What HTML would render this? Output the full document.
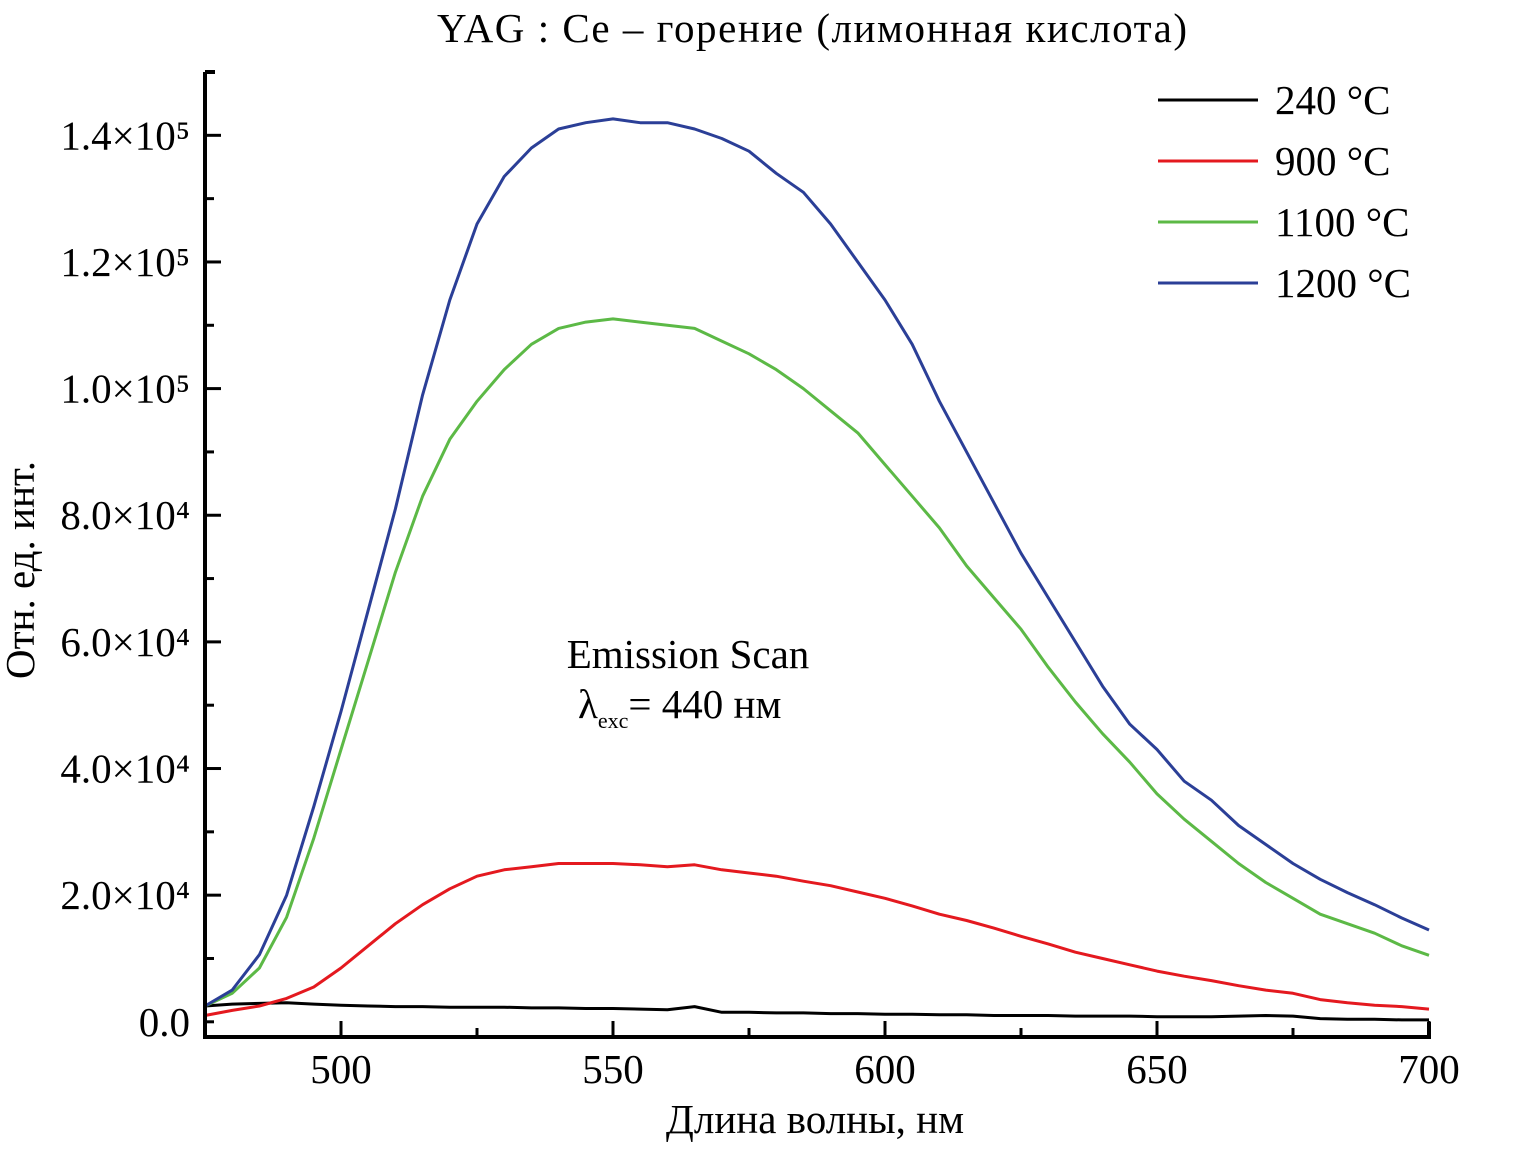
<!DOCTYPE html>
<html><head><meta charset="utf-8"><style>
html,body{margin:0;padding:0;background:#fff;}
svg{display:block;font-family:"Liberation Serif",serif;}
</style></head><body>
<svg id="chart" width="1514" height="1154" viewBox="0 0 1514 1154">
<text x="812" y="42" font-size="41" text-anchor="middle" textLength="750">YAG : Ce – горение (лимонная кислота)</text>
<g id="plot"></g>
<g id="axes"></g>
<text x="815" y="1133" font-size="41" text-anchor="middle">Длина волны, нм</text>
<text transform="translate(34,570) rotate(-90)" font-size="41" text-anchor="middle">Отн. ед. инт.</text>
<g>
<text x="688" y="668" font-size="41" text-anchor="middle">Emission Scan</text>
<text x="578" y="718" font-size="41">λ<tspan font-size="22" dy="10">exc</tspan><tspan dy="-10">= 440 нм</tspan></text>
</g>
<g id="legend"></g>
</svg>
<script>
const wl = [475,480,485,490,495,500,505,510,515,520,525,530,535,540,545,550,555,560,565,570,575,580,585,590,595,600,605,610,615,620,625,630,635,640,645,650,655,660,665,670,675,680,685,690,695,700];
const s240 = [2500,2800,2900,3000,2800,2600,2500,2400,2400,2300,2300,2300,2200,2200,2100,2100,2000,1900,2400,1500,1500,1400,1400,1300,1300,1200,1200,1100,1100,1000,1000,1000,900,900,900,800,800,800,900,1000,900,500,400,400,300,300];
const s900 = [1000,1800,2500,3700,5500,8500,12000,15500,18500,21000,23000,24000,24500,25000,25000,25000,24800,24500,24800,24000,23500,23000,22200,21500,20500,19500,18300,17000,16000,14800,13500,12300,11000,10000,9000,8000,7200,6500,5700,5000,4500,3500,3000,2600,2400,2000];
const s1100 = [2500,4500,8500,16500,29000,43000,57000,71000,83000,92000,98000,103000,107000,109500,110500,111000,110500,110000,109500,107500,105500,103000,100000,96500,93000,88000,83000,78000,72000,67000,62000,56000,50500,45500,41000,36000,32000,28500,25000,22000,19500,17000,15500,14000,12000,10500];
const s1200 = [2500,5000,10600,20000,34000,49000,65000,81000,99000,114000,126000,133500,138000,141000,142000,142600,142000,142000,141000,139500,137500,134000,131000,126000,120000,114000,107000,98000,90000,82000,74000,67000,60000,53000,47000,43000,38000,35000,31000,28000,25000,22500,20400,18500,16400,14500];
const seriesNames = ["240 °C","900 °C","1100 °C","1200 °C"];
const seriesColors = ["#000000","#e4191f","#5cb946","#2b3f97"];
const xTicks = [500,550,600,650,700];
const yTicks = [0,20000,40000,60000,80000,100000,120000,140000];
const yTickLabels = ["0.0","2.0×10⁴","4.0×10⁴","6.0×10⁴","8.0×10⁴","1.0×10⁵","1.2×10⁵","1.4×10⁵"];

const X0=205,X1=1429,Y0=1037,Y1=72;
const xmin=475,xmax=700,ymin=-2400,ymax=150000;
const sx=v=>X0+(v-xmin)/(xmax-xmin)*(X1-X0);
const sy=v=>Y0-(v-ymin)/(ymax-ymin)*(Y0-Y1);
const NS="http://www.w3.org/2000/svg";
function mk(tag,attrs,parent){const e=document.createElementNS(NS,tag);for(const k in attrs)e.setAttribute(k,attrs[k]);parent.appendChild(e);return e;}
const plot=document.getElementById('plot'),axes=document.getElementById('axes'),leg=document.getElementById('legend');
const all=[s240,s900,s1100,s1200];
all.forEach((s,i)=>{
  const d=s.map((v,j)=>(j?'L':'M')+sx(wl[j]).toFixed(1)+','+sy(v).toFixed(1)).join('');
  const p=mk('path',{d:d,fill:'none',stroke:seriesColors[i],'stroke-width':3,'stroke-linejoin':'round'},plot);
  
  
  const y=100+i*61;
  const l=mk('line',{x1:1158,x2:1258,y1:y,y2:y,stroke:seriesColors[i],'stroke-width':3},leg);
  
  
  const t=mk('text',{x:1275,y:y+14,'font-size':41},leg);
  t.textContent=seriesNames[i];
  
  
});
const frame=mk('path',{d:`M${X0},${Y1}V${Y0}H${X1}V${Y0-15}`,fill:'none',stroke:'#000','stroke-width':4},axes);


mk('line',{x1:X0,x2:X0+10,y1:Y1,y2:Y1,stroke:'#000','stroke-width':4},axes);
for(let v=475;v<=700;v+=25){
  const major=v%50===0;
  mk('line',{x1:sx(v),x2:sx(v),y1:Y0,y2:Y0-(major?16:9),stroke:'#000','stroke-width':3},axes);
}
xTicks.forEach(v=>{
  const t=mk('text',{x:sx(v),y:1083,'font-size':41,'text-anchor':'middle'},axes);
  t.textContent=v;
  
  
});
for(let v=0;v<=150000;v+=10000){
  const major=v%20000===0&&v>0;
  mk('line',{x1:X0,x2:X0+(major?16:9),y1:sy(v),y2:sy(v),stroke:'#000','stroke-width':3},axes);
}
yTicks.forEach((v,i)=>{
  const t=mk('text',{x:190,y:sy(v)+14,'font-size':41,'text-anchor':'end'},axes);
  t.textContent=yTickLabels[i];
  
  
});
</script>
</body></html>
